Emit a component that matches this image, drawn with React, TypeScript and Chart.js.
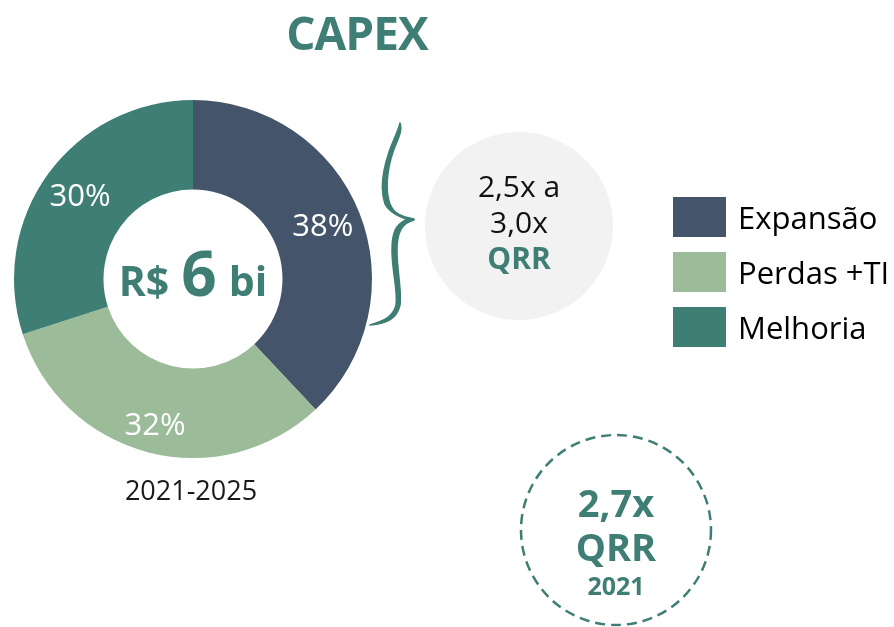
import React, { useEffect, useRef } from "react";
import { Chart, registerables } from "chart.js";

Chart.register(...registerables);

const categories = ["Expansão", "Perdas +TI", "Melhoria"];
const shares = [38, 32, 30];
const colors = ["#44546A", "#9CBB98", "#3F7E74"];
const periodLabel = "2021-2025";
const centerParts = ["R$", "6", "bi"];
const titleText = "CAPEX";
const targetLines = ["2,5x a", "3,0x", "QRR"];
const currentLines = ["2,7x", "QRR", "2021"];

const TEAL = "#3F7E74";

const labelPlugin = {
  id: "sliceLabels",
  afterDatasetsDraw(chart: any, _args: any, opts: any) {
    const ctx = chart.ctx;
    const meta = chart.getDatasetMeta(0);
    const ds = chart.data.datasets[0];
    ctx.save();
    ctx.fillStyle = "#ffffff";
    ctx.font = "400 31px 'Open Sans'";
    ctx.textAlign = "center";
    ctx.textBaseline = "middle";
    meta.data.forEach((arc: any, i: number) => {
      const p = arc.getProps(["x", "y", "startAngle", "endAngle", "outerRadius"], true);
      const mid = (p.startAngle + p.endAngle) / 2;
      const r = p.outerRadius * (opts.radii?.[i] ?? 0.78);
      ctx.fillText(ds.data[i] + "%", p.x + Math.cos(mid) * r, p.y + Math.sin(mid) * r);
    });
    const a0 = meta.data[0].getProps(["x", "y"], true);
    const small = "700 41px 'Open Sans'";
    const big = "700 62px 'Open Sans'";
    ctx.fillStyle = TEAL;
    ctx.textAlign = "left";
    ctx.textBaseline = "alphabetic";
    ctx.font = small;
    const w1 = ctx.measureText(centerParts[0]).width;
    const w3 = ctx.measureText(centerParts[2]).width;
    ctx.font = big;
    const w2 = ctx.measureText(centerParts[1]).width;
    const gap = 12;
    const total = w1 + w2 + w3 + gap * 2;
    let x = a0.x - total / 2;
    const base = a0.y + 17;
    ctx.font = small;
    ctx.fillText(centerParts[0], x, base);
    x += w1 + gap;
    ctx.font = big;
    ctx.fillText(centerParts[1], x, base);
    x += w2 + gap;
    ctx.font = small;
    ctx.fillText(centerParts[2], x, base);
    ctx.restore();
  },
};

export default function App() {
  const ref = useRef<HTMLCanvasElement | null>(null);
  useEffect(() => {
    if (!ref.current) return;
    const chart = new Chart(ref.current, {
      type: "doughnut",
      data: {
        labels: categories,
        datasets: [
          {
            data: shares,
            backgroundColor: colors,
            borderWidth: 0,
          },
        ],
      },
      options: {
        animation: false,
        responsive: false,
        cutout: "50%",
        layout: { padding: { left: 14, right: 522, top: 100, bottom: 169 } },
        plugins: {
          legend: { display: false },
          tooltip: { enabled: false },
          sliceLabels: { radii: [0.78, 0.85, 0.78] },
        } as any,
      },
      plugins: [labelPlugin],
    });
    return () => chart.destroy();
  }, []);

  const abs = (s: React.CSSProperties): React.CSSProperties => ({ position: "absolute", ...s });

  return (
    <div
      style={{
        position: "absolute",
        left: 0,
        top: 0,
        width: 894,
        height: 627,
        background: "#ffffff",
        overflow: "hidden",
        fontFamily: "'Open Sans', sans-serif",
      }}
    >
      <canvas ref={ref} width={894} height={627} style={abs({ left: 0, top: 0 })} />
      <div
        style={abs({
          left: 257,
          top: 2,
          width: 200,
          textAlign: "center",
          fontSize: 46,
          fontWeight: 700,
          color: TEAL,
          letterSpacing: -1,
          lineHeight: "60px",
        })}
      >
        {titleText}
      </div>
      <div
        style={abs({
          left: 91,
          top: 471,
          width: 200,
          textAlign: "center",
          fontSize: 27,
          color: "#1a1a1a",
          lineHeight: "38px",
        })}
      >
        {periodLabel}
      </div>
      <svg width={894} height={627} style={abs({ left: 0, top: 0 })}>
        <path
          d="M400,123 C403,132 397,140 393,152 C387,170 385,190 390,204 C394,214 402,217 414,219 L414,220 C402,223 397,232 397,250 C397,272 402,290 400,305 C397,318 388,324 370,325 C384,321 394,316 396,305 C398,290 392,272 392,250 C392,232 396,224 407,219.5 C398,216 389,212 385,204 C380,190 383,170 389,152 C393,140 398,132 400,123 Z"
          fill={TEAL}
          stroke={TEAL}
          strokeWidth={1.5}
          strokeLinejoin="round"
        />
        <circle cx={519} cy={226} r={94} fill="#F2F2F2" />
        <circle cx={616} cy={530} r={95} fill="none" stroke={TEAL} strokeWidth={2.5} strokeDasharray="10 6" />
      </svg>
      <div style={abs({ left: 419, top: 167, width: 200, textAlign: "center", fontSize: 30, lineHeight: "38px", color: "#111" })}>
        <div>{targetLines[0]}</div>
        <div style={{ marginTop: -2 }}>{targetLines[1]}</div>
        <div style={{ color: TEAL, fontWeight: 700, marginTop: -2 }}>{targetLines[2]}</div>
      </div>
      <div style={abs({ left: 516, top: 478, width: 200, textAlign: "center", color: TEAL, fontWeight: 700 })}>
        <div style={{ fontSize: 38, lineHeight: "48px" }}>{currentLines[0]}</div>
        <div style={{ fontSize: 38, lineHeight: "44px", marginTop: -2 }}>{currentLines[1]}</div>
        <div style={{ fontSize: 25, lineHeight: "34px" }}>{currentLines[2]}</div>
      </div>
      {categories.map((c, i) => (
        <div key={c}>
          <div style={abs({ left: 673, top: 197 + i * 55, width: 53, height: 40, background: colors[i] })} />
          <div
            style={abs({
              left: 738,
              top: 197 + i * 55,
              height: 40,
              lineHeight: "40px",
              fontSize: 31,
              color: "#000",
              whiteSpace: "nowrap",
            })}
          >
            {c}
          </div>
        </div>
      ))}
    </div>
  );
}
